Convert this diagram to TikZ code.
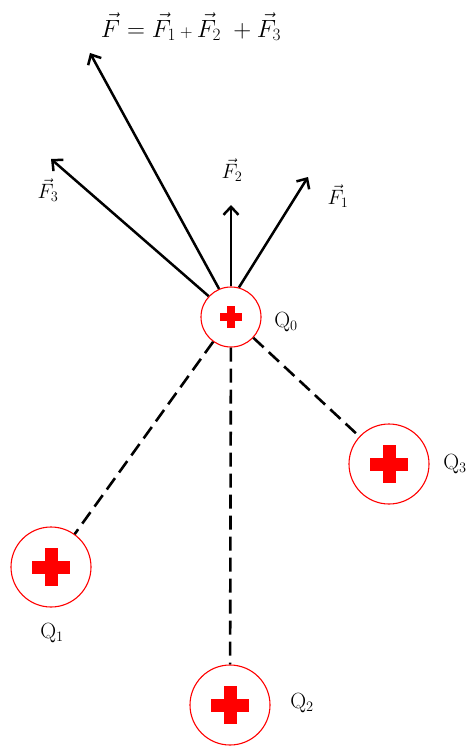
\documentclass[tikz,border=0pt]{standalone}
\usetikzlibrary{arrows.meta}
\begin{document}
\begin{tikzpicture}[x=1pt,y=-1pt,
  charge/.style={circle, draw=red, line width=1.1pt, fill=white, inner sep=0pt, minimum size=#1},
  force/.style={line width=2.5pt, -{Straight Barb[length=8pt,width=15pt,line width=2.5pt]}},
  link/.style={line width=2.6pt, dash pattern=on 14pt off 7pt},
  lbl/.style={font=\fontsize{22}{24}\selectfont, inner sep=0pt},
  flbl/.style={font=\fontsize{21}{24}\selectfont, inner sep=0pt},
  eqlbl/.style={font=\fontsize{23}{26}\selectfont, inner sep=0pt}]
\useasboundingbox (0,0) rectangle (468,749);
\newcommand{\plusmark}[3]{%
  \fill[red] ([shift={(-#2,-#3)}]#1) rectangle ([shift={(#2,#3)}]#1);
  \fill[red] ([shift={(-#3,-#2)}]#1) rectangle ([shift={(#3,#2)}]#1);}
% charges
\node[charge=60pt] (q0) at (231,317) {};
\node[charge=80pt] (q1) at (51,567) {};
\node[charge=80pt] (q2) at (230,705) {};
\node[charge=80pt] (q3) at (389,464) {};
\plusmark{q0.center}{11pt}{4pt}
\plusmark{q1.center}{19pt}{6.5pt}
\plusmark{q2.center}{19pt}{6.5pt}
\plusmark{q3.center}{19pt}{6.5pt}
% labels
\node[lbl] (l0) at (286,322) {Q$_0$};
\node[lbl] (l1) at (52,633) {Q$_1$};
\node[lbl] (l2) at (302,703) {Q$_2$};
\node[lbl] (l3) at (455,464) {Q$_3$};
% dashed links
\draw[link] (q0) -- (q1);
\draw[link] (q0) -- (q2);
\draw[link] (q0) -- (q3);
% force vectors
\coordinate (t1) at (308,177);
\coordinate (t2) at (231,205);
\coordinate (t3) at (51,159);
\coordinate (tf) at (90,53);
\draw[force] (q0.75) -- (t1);
\draw[force] (q0.90) -- (t2);
\draw[force] (q0.137) -- (t3);
\draw[force] (q0.113) -- (tf);
\node[flbl] (n1) at (338,196) {$\vec F_1$};
\node[flbl] (n2) at (232,170) {$\vec F_2$};
\node[flbl] (n3) at (48,190) {$\vec F_3$};
\node[eqlbl] (eq) at (191,27) {$\vec F = \vec F_1\,{\scriptstyle +}\,\vec F_2\ + \vec F_3$};
\end{tikzpicture}
\end{document}
